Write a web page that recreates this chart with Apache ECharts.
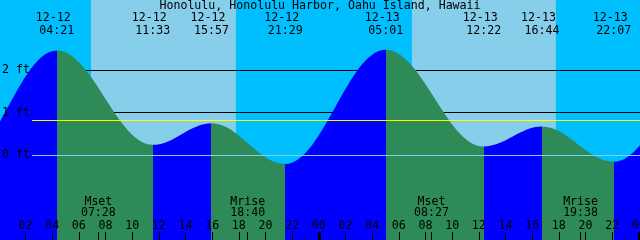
<!DOCTYPE html>
<html><head><meta charset="utf-8">
<script src="https://cdn.jsdelivr.net/npm/echarts@6/dist/echarts.min.js"></script>
<style>html,body{margin:0;padding:0;background:#00BFFF}#c{width:640px;height:240px}</style>
</head><body><div id="c"></div>
<script>
// ---------------- data ----------------
const TITLE = 'Honolulu, Honolulu Harbor, Oahu Island, Hawaii';
const tideTimes = ['12-12 04:21', '12-12 11:33', '12-12 15:57', '12-12 21:29',
                   '12-13 05:01', '12-13 12:22', '12-13 16:44', '12-13 22:07'];
const tideHeights = [2.46, 0.24, 0.75, -0.21, 2.48, 0.20, 0.67, -0.16];
// estimated extrema just outside the visible window (so the curve runs off the edges)
const edgeTimesBefore = ['12-11 15:10', '12-11 21:02'];
const edgeHeightsBefore = [0.75, -0.20];
const edgeTimesAfter = ['12-14 05:48', '12-14 13:00'];
const edgeHeightsAfter = [2.40, 0.22];
const moonNames = ['Mset', 'Mrise', 'Mset', 'Mrise'];
const moonTimes = ['12-12 07:28', '12-12 18:40', '12-13 08:27', '12-13 19:38'];
const sunriseTimes = ['12-12 06:55', '12-13 06:59'];
const sunsetTimes = ['12-12 17:47', '12-13 17:47'];
const hourTicks = [0, 2, 4, 6, 8, 10, 12, 14, 16, 18, 20, 22, 24, 26, 28, 30, 32, 34, 36, 38, 40, 42, 44, 46, 48];
const midnightTicks = [24, 48];
const ftTicks = [0, 1, 2];
const blackLevels = [1, 2];
const meanLevel = 0.82;
const datumLevel = 0;
const viewStart = 0.09;   // hours after 12-12 00:00
const viewSpan = 48;      // hours
const yMin = -2, yMax = 3.65;

// ---------------- helpers ----------------
const FONT = 'DejaVu Sans Mono';
const FS = 11.6;
const NIGHT = '#00BFFF', DAY = '#87CEEB', RISE = '#0000FF', FALL = '#2E8B57';
function toHours(s) {
  const [d, t] = s.split(' ');
  const day = parseInt(d.split('-')[1], 10) - 12;
  const [hh, mm] = t.split(':').map(Number);
  return day * 24 + hh + mm / 60;
}
const pad = n => (n < 10 ? '0' : '') + n;

const allTimes = edgeTimesBefore.concat(tideTimes, edgeTimesAfter).map(toHours);
const allHeights = edgeHeightsBefore.concat(tideHeights, edgeHeightsAfter);
const tideData = allTimes.map((t, i) => [t, allHeights[i]]);
const pieces = [];
for (let i = 0; i < allTimes.length - 1; i++) {
  pieces.push({ gte: allTimes[i], lt: allTimes[i + 1],
                color: allHeights[i + 1] > allHeights[i] ? RISE : FALL });
}
const tideHours = tideTimes.map(toHours);
const moonHours = moonTimes.map(toHours);
const dayAreas = sunriseTimes.map((s, i) => [{ xAxis: toHours(s) }, { xAxis: toHours(sunsetTimes[i]) }]);

const xMin = viewStart, xMax = viewStart + viewSpan;
const txt = { fontFamily: FONT, fontSize: FS, color: '#000' };
const gridBase = { top: 0, bottom: 0, right: 0, outerBoundsMode: 'none', containLabel: false };
const noLine = { show: false, onZero: false };
function hiddenX(gi) {
  return { type: 'value', gridIndex: gi, min: xMin, max: xMax, show: false, axisLine: noLine };
}
function hiddenY(gi) {
  return { type: 'value', gridIndex: gi, min: yMin, max: yMax, show: false, axisLine: noLine };
}

const chart = echarts.init(document.getElementById('c'), null, { renderer: 'canvas' });
chart.setOption({
  animation: false,
  backgroundColor: NIGHT,
  title: { text: TITLE, left: 'center', top: -1, padding: 0,
           textStyle: Object.assign({ fontWeight: 'normal', lineHeight: 13 }, txt) },
  grid: [
    Object.assign({ left: 0 }, gridBase),
    Object.assign({ left: 0 }, gridBase),
    Object.assign({ left: 0 }, gridBase),
    Object.assign({ left: 32 }, gridBase)
  ],
  xAxis: [
    { // hour ticks and labels
      type: 'value', gridIndex: 0, position: 'bottom', min: xMin, max: xMax, z: 10,
      axisLine: noLine, splitLine: { show: false },
      axisTick: { show: true, inside: true, length: 8, customValues: hourTicks,
                  lineStyle: { color: '#000', width: 1 } },
      axisLabel: Object.assign({ show: true, inside: true, margin: 8, customValues: hourTicks,
                  lineHeight: 13, hideOverlap: false,
                  formatter: v => pad(((Math.round(v) % 24) + 24) % 24) }, txt)
    },
    { // tide event labels on top
      type: 'value', gridIndex: 0, position: 'top', min: xMin, max: xMax, z: 10,
      axisLine: noLine, splitLine: { show: false }, axisTick: { show: false },
      axisLabel: Object.assign({ show: true, inside: true, margin: 11, customValues: tideHours,
                  lineHeight: 13, hideOverlap: false,
                  formatter: v => {
                    const i = tideHours.findIndex(h => Math.abs(h - v) < 1e-6);
                    const [d, t] = tideTimes[i].split(' ');
                    return d + ' \n' + t;
                  } }, txt)
    },
    { // moon events
      type: 'value', gridIndex: 1, position: 'bottom', min: xMin, max: xMax, z: 10,
      axisLine: noLine, splitLine: { show: false },
      axisTick: { show: true, inside: true, length: 8, customValues: moonHours,
                  lineStyle: { color: '#000', width: 1 } },
      axisLabel: Object.assign({ show: true, inside: true, margin: 21, customValues: moonHours,
                  lineHeight: 11.3, hideOverlap: false,
                  formatter: v => {
                    const i = moonHours.findIndex(h => Math.abs(h - v) < 1e-6);
                    return moonNames[i] + '\n' + moonTimes[i].split(' ')[1];
                  } }, txt)
    },
    { // midnight marks
      type: 'value', gridIndex: 2, position: 'bottom', min: xMin, max: xMax, z: 10,
      axisLine: noLine, splitLine: { show: false }, axisLabel: { show: false },
      axisTick: { show: true, inside: true, length: 8, customValues: midnightTicks,
                  lineStyle: { color: '#000', width: 3 } }
    },
    hiddenX(3)
  ],
  yAxis: [
    { type: 'value', gridIndex: 0, position: 'left', min: yMin, max: yMax, z: 10,
      axisLine: noLine, splitLine: { show: false }, axisTick: { show: false },
      axisLabel: Object.assign({ show: true, inside: true, margin: 2, customValues: ftTicks,
                  formatter: v => v + ' ft' }, txt) },
    hiddenY(1), hiddenY(2), hiddenY(3)
  ],
  visualMap: { type: 'piecewise', show: false, dimension: 0, seriesIndex: 0, pieces: pieces },
  series: [
    { type: 'line', xAxisIndex: 0, yAxisIndex: 0, z: 3, data: tideData,
      smooth: 0.37, smoothMonotone: 'x', symbol: 'none', showSymbol: false, silent: true,
      lineStyle: { width: 0 }, areaStyle: { opacity: 1, origin: 'start' },
      markArea: { z: 1, silent: true, itemStyle: { color: DAY, opacity: 1 }, data: dayAreas } },
    { type: 'line', xAxisIndex: 4, yAxisIndex: 3, z: 2, data: [], silent: true,
      markLine: { z: 2, silent: true, symbol: 'none', label: { show: false },
                  lineStyle: { color: '#000', width: 1, type: 'solid' },
                  data: blackLevels.map(v => ({ yAxis: v })) } },
    { type: 'line', xAxisIndex: 4, yAxisIndex: 3, z: 5, data: [], silent: true,
      markLine: { z: 5, silent: true, symbol: 'none', label: { show: false },
                  data: [
                    { yAxis: meanLevel, lineStyle: { color: '#FFFF00', width: 1, type: 'solid' } },
                    { yAxis: datumLevel, lineStyle: { color: DAY, width: 1, type: 'solid' } }
                  ] } }
  ]
});
</script></body></html>
